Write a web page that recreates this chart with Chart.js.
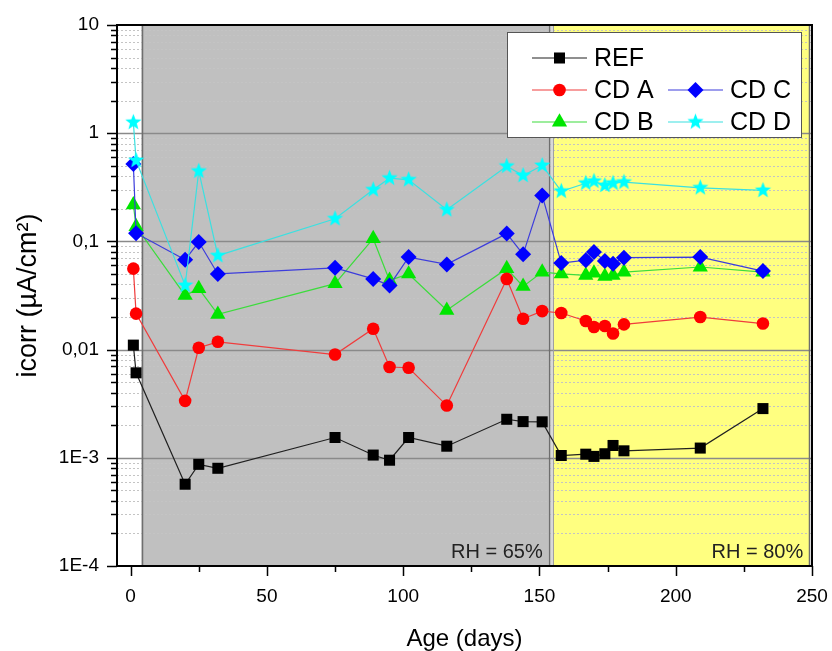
<!DOCTYPE html>
<html>
<head>
<meta charset="utf-8">
<script src="https://cdn.jsdelivr.net/npm/chart.js@4.4.1/dist/chart.umd.min.js"></script>
<style>
  html, body { margin: 0; padding: 0; background: #fff; }
  canvas { display: block; }
</style>
</head>
<body>
<canvas id="chart" width="832" height="651"></canvas>
<script>
const days = [1, 2, 20, 25, 32, 75, 89, 95, 102, 116, 138, 144, 151, 158, 167, 170, 174, 177, 181, 209, 232];
const refValues = [0.011, 0.0061, 0.00057, 0.00087, 0.0008, 0.00154, 0.00106, 0.00095, 0.00154, 0.00128, 0.00227, 0.00216, 0.00215, 0.00105, 0.00108, 0.00103, 0.00109, 0.0013, 0.00116, 0.00123, 0.00285];
const cdAValues = [0.056, 0.0215, 0.00336, 0.0104, 0.0118, 0.009, 0.0156, 0.0069, 0.0068, 0.00304, 0.045, 0.0193, 0.0227, 0.0218, 0.0184, 0.0162, 0.0165, 0.0141, 0.0171, 0.02, 0.0174];
const cdBValues = [0.218, 0.137, 0.0317, 0.0366, 0.0212, 0.0407, 0.106, 0.0436, 0.05, 0.0231, 0.056, 0.0384, 0.052, 0.05, 0.0485, 0.051, 0.0476, 0.0485, 0.052, 0.058, 0.052];
const cdCValues = [0.52, 0.119, 0.0678, 0.0986, 0.05, 0.057, 0.045, 0.0392, 0.0716, 0.0613, 0.118, 0.0759, 0.266, 0.063, 0.067, 0.08, 0.0658, 0.0622, 0.0707, 0.0716, 0.0532];
const cdDValues = [1.26, 0.56, 0.0392, 0.446, 0.0738, 0.162, 0.3, 0.384, 0.371, 0.196, 0.496, 0.407, 0.503, 0.291, 0.345, 0.36, 0.329, 0.345, 0.353, 0.313, 0.296];
const seriesLabels = ['REF', 'CD A', 'CD B', 'CD C', 'CD D'];

const xTickValues = [0, 50, 100, 150, 200, 250];
const xTickLabels = ['0', '50', '100', '150', '200', '250'];
const xMinorTicks = [25, 75, 125, 175, 225];
const yTickValues = [1e-4, 1e-3, 1e-2, 1e-1, 1, 10];
const yTickLabels = ['1E-4', '1E-3', '0,01', '0,1', '1', '10'];

// humidity periods (days)
const zoneStarts = [4, 155];
const zoneEnds = [153.4, 249];
const zoneLabels = ['RH = 65%', 'RH = 80%'];

const FONT = "'Liberation Sans', Arial, sans-serif";
Chart.defaults.font.family = FONT;
Chart.defaults.color = '#000';

function makeStar(r, color) {
  const s = Math.ceil(r * 2 + 2);
  const c = document.createElement('canvas');
  c.width = s; c.height = s;
  const g = c.getContext('2d');
  g.fillStyle = color;
  g.beginPath();
  for (let i = 0; i < 10; i++) {
    const rr = i % 2 ? r * 0.42 : r;
    const ang = -Math.PI / 2 + i * Math.PI / 5;
    g.lineTo(s / 2 + rr * Math.cos(ang), s / 2 + rr * Math.sin(ang));
  }
  g.closePath();
  g.fill();
  return c;
}

const toPoints = vals => days.map((d, i) => ({ x: d, y: vals[i] }));

function series(i, vals, line, fill, style, radius, order) {
  return {
    label: seriesLabels[i],
    data: toPoints(vals),
    borderColor: line,
    backgroundColor: fill,
    borderWidth: 1.2,
    pointStyle: style,
    pointRadius: radius,
    pointBackgroundColor: fill,
    pointBorderColor: fill,
    pointBorderWidth: 0,
    tension: 0,
    order: order
  };
}

const datasets = [
  series(0, refValues, '#202020', '#000000', 'rect', 7.8, 2),
  series(1, cdAValues, '#f03c3c', '#ff0000', 'circle', 6.3, 3),
  series(2, cdBValues, '#3cdc3c', '#00e600', 'triangle', 8.8, 5),
  series(3, cdCValues, '#3c3cdc', '#0000ff', 'rectRot', 8, 4),
  series(4, cdDValues, '#3ce0e0', '#00ffff', makeStar(8.5, '#00ffff'), 8.5, 1)
];

// legend layout: columns of dataset indices (null = empty slot)
const legendColumns = [[0, 1, 2], [null, 3, 4]];

function drawMarker(ctx, ds, px, py) {
  const st = ds.pointStyle;
  if (st instanceof HTMLCanvasElement) {
    ctx.drawImage(st, px - st.width / 2, py - st.height / 2);
    return;
  }
  if (Chart.helpers && Chart.helpers.drawPoint) {
    Chart.helpers.drawPoint(ctx, { pointStyle: st, radius: ds.pointRadius, borderWidth: 0, rotation: 0 }, px, py);
  }
}

const decor = {
  id: 'decor',
  beforeDatasetsDraw(chart) {
    const { ctx, chartArea: a, scales: { x, y } } = chart;
    ctx.save();
    ctx.fillStyle = '#fff';
    ctx.fillRect(a.left, a.top, a.width, a.height);

    const zoneFill = ['#c0c0c0', '#ffff80'];
    zoneStarts.forEach((s, i) => {
      const x0 = x.getPixelForValue(s), x1 = x.getPixelForValue(zoneEnds[i]);
      ctx.fillStyle = zoneFill[i];
      ctx.fillRect(x0, a.top, x1 - x0, a.height);
    });
    // thin strip between the two periods
    const g0 = x.getPixelForValue(zoneEnds[0]), g1 = x.getPixelForValue(zoneStarts[1]);
    ctx.fillStyle = '#d8d8d8';
    ctx.fillRect(g0, a.top, g1 - g0, a.height);

    // minor dotted grid
    ctx.strokeStyle = '#c4c4c4';
    ctx.lineWidth = 1;
    ctx.setLineDash([2, 2]);
    for (let d = 0; d < yTickValues.length - 1; d++) {
      for (let k = 2; k <= 9; k++) {
        const py = Math.round(y.getPixelForValue(yTickValues[d] * k)) + 0.5;
        ctx.beginPath();
        ctx.moveTo(a.left, py);
        ctx.lineTo(a.right, py);
        ctx.stroke();
      }
    }
    ctx.setLineDash([]);

    // major grid
    ctx.strokeStyle = '#8a8a8a';
    ctx.lineWidth = 1.5;
    yTickValues.slice(1, -1).forEach(v => {
      const py = Math.round(y.getPixelForValue(v)) + 0.5;
      ctx.beginPath();
      ctx.moveTo(a.left, py);
      ctx.lineTo(a.right, py);
      ctx.stroke();
    });

    // zone edges
    ctx.strokeStyle = '#6e6e6e';
    ctx.lineWidth = 1.5;
    [zoneStarts[0], zoneEnds[0], zoneEnds[1]].forEach(v => {
      const px = Math.round(x.getPixelForValue(v)) + 0.5;
      ctx.beginPath();
      ctx.moveTo(px, a.top);
      ctx.lineTo(px, a.bottom);
      ctx.stroke();
    });
    ctx.strokeStyle = '#a0a0a0';
    ctx.lineWidth = 1;
    const pxs = Math.round(x.getPixelForValue(zoneStarts[1])) + 0.5;
    ctx.beginPath();
    ctx.moveTo(pxs, a.top);
    ctx.lineTo(pxs, a.bottom);
    ctx.stroke();
    ctx.restore();
  },
  afterDatasetsDraw(chart) {
    const { ctx, chartArea: a, scales: { x, y } } = chart;
    ctx.save();

    // frame
    ctx.strokeStyle = '#000';
    ctx.lineWidth = 2;
    ctx.strokeRect(a.left, a.top, a.width, a.height);

    // ticks
    ctx.lineWidth = 1.5;
    ctx.beginPath();
    yTickValues.forEach((v, d) => {
      const py = Math.round(y.getPixelForValue(v)) + 0.5;
      ctx.moveTo(a.left, py); ctx.lineTo(a.left - 10, py);
      if (d < yTickValues.length - 1) {
        for (let k = 2; k <= 9; k++) {
          const pm = Math.round(y.getPixelForValue(v * k)) + 0.5;
          ctx.moveTo(a.left, pm); ctx.lineTo(a.left - 6, pm);
        }
      }
    });
    xTickValues.forEach(v => {
      const px = Math.round(x.getPixelForValue(v)) + 0.5;
      ctx.moveTo(px, a.bottom); ctx.lineTo(px, a.bottom + 10);
    });
    xMinorTicks.forEach(v => {
      const px = Math.round(x.getPixelForValue(v)) + 0.5;
      ctx.moveTo(px, a.bottom); ctx.lineTo(px, a.bottom + 6);
    });
    ctx.stroke();

    // humidity labels
    ctx.fillStyle = '#222';
    ctx.font = '20px ' + FONT;
    ctx.textAlign = 'right';
    ctx.textBaseline = 'middle';
    zoneLabels.forEach((t, i) => {
      ctx.fillText(t, x.getPixelForValue(zoneEnds[i]) - 6, a.bottom - 14);
    });

    // legend
    const bx = a.right - 305, by = a.top + 7, bw = 294, bh = 105;
    ctx.fillStyle = '#fff';
    ctx.fillRect(bx, by, bw, bh);
    ctx.strokeStyle = '#555';
    ctx.lineWidth = 1;
    ctx.strokeRect(bx + 0.5, by + 0.5, bw, bh);
    ctx.font = '25px ' + FONT;
    ctx.textAlign = 'left';
    legendColumns.forEach((col, c) => {
      col.forEach((idx, r) => {
        if (idx === null) return;
        const ds = chart.data.datasets[idx];
        const lx = bx + 25 + c * 136;
        const ly = by + 26 + r * 32;
        ctx.strokeStyle = ds.borderColor;
        ctx.lineWidth = 1.2;
        ctx.beginPath();
        ctx.moveTo(lx, ly); ctx.lineTo(lx + 55, ly);
        ctx.stroke();
        ctx.fillStyle = ds.pointBackgroundColor;
        drawMarker(ctx, ds, lx + 27.5, ly);
        ctx.fillStyle = '#000';
        ctx.fillText(ds.label, lx + 62, ly + 1);
      });
    });
    ctx.restore();
  }
};

new Chart(document.getElementById('chart'), {
  type: 'line',
  data: { datasets },
  plugins: [decor],
  options: {
    responsive: false,
    animation: false,
    devicePixelRatio: 1,
    layout: { padding: { left: 0, right: 20, top: 25, bottom: 0 } },
    plugins: { legend: { display: false }, tooltip: { enabled: false } },
    scales: {
      x: {
        type: 'linear',
        min: -5,
        max: 250,
        afterBuildTicks: s => { s.ticks = xTickValues.map(v => ({ value: v })); },
        afterFit: s => { s.height = 85; s.paddingLeft = 0; s.paddingRight = 0; },
        grid: { display: false, drawTicks: false },
        border: { display: false },
        ticks: {
          autoSkip: false,
          maxRotation: 0,
          padding: 19,
          font: { size: 19 },
          callback: (v, i) => xTickLabels[i]
        },
        title: { display: true, text: 'Age (days)', font: { size: 24 }, padding: { top: 0, bottom: -3 } }
      },
      y: {
        type: 'logarithmic',
        min: 1e-4,
        max: 10,
        afterBuildTicks: s => { s.ticks = yTickValues.map(v => ({ value: v })); },
        afterFit: s => { s.width = 117; s.paddingTop = 0; s.paddingBottom = 0; },
        grid: { display: false, drawTicks: false },
        border: { display: false },
        ticks: {
          autoSkip: false,
          padding: 18,
          font: { size: 19 },
          callback: (v, i) => yTickLabels[i]
        },
        title: { display: true, text: 'icorr (µA/cm²)', font: { size: 27 }, padding: { top: 12, bottom: 0 } }
      }
    }
  }
});
</script>
</body>
</html>
